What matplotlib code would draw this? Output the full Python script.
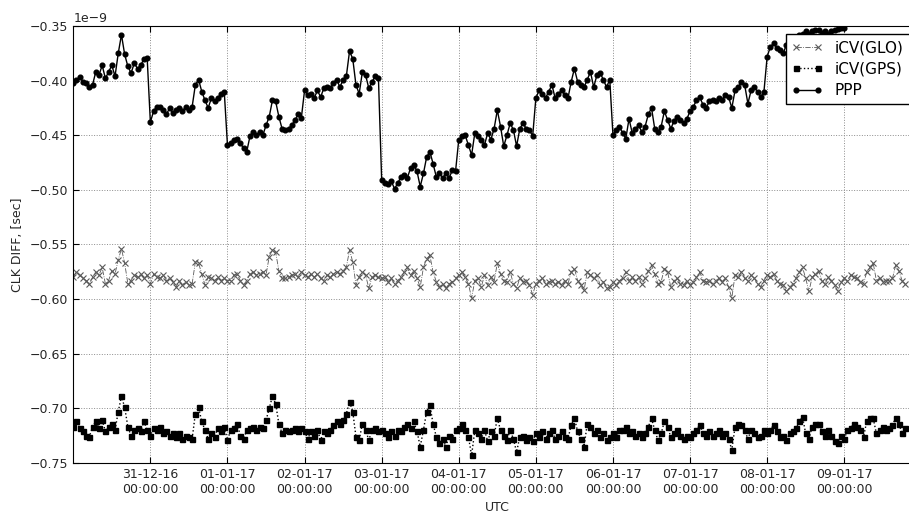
import matplotlib
matplotlib.use('Agg')
import matplotlib.pyplot as plt
import matplotlib.dates as mdates
import numpy as np
import pandas as pd

# hourly samples starting 30-12-16 00:00 UTC, clock difference in units of 1e-9 s
start = '2016-12-30 00:00'

ppp = [-0.402, -0.399, -0.397, -0.401, -0.402, -0.406, -0.404, -0.392, -0.395, -0.386,
       -0.398, -0.392, -0.386, -0.396, -0.375, -0.358, -0.376, -0.387, -0.393, -0.384,
       -0.389, -0.386, -0.380, -0.379, -0.438, -0.428, -0.424, -0.424, -0.427, -0.431,
       -0.425, -0.430, -0.427, -0.425, -0.428, -0.424, -0.427, -0.424, -0.404, -0.399,
       -0.410, -0.418, -0.425, -0.416, -0.419, -0.416, -0.412, -0.410, -0.459, -0.457,
       -0.454, -0.453, -0.457, -0.462, -0.465, -0.451, -0.447, -0.450, -0.447, -0.450,
       -0.441, -0.433, -0.418, -0.419, -0.433, -0.444, -0.445, -0.444, -0.441, -0.436,
       -0.431, -0.434, -0.409, -0.413, -0.412, -0.416, -0.409, -0.415, -0.407, -0.406,
       -0.407, -0.402, -0.399, -0.406, -0.399, -0.396, -0.373, -0.380, -0.404, -0.412,
       -0.392, -0.395, -0.407, -0.401, -0.396, -0.398, -0.491, -0.494, -0.495, -0.492,
       -0.499, -0.494, -0.488, -0.486, -0.489, -0.480, -0.477, -0.483, -0.497, -0.485,
       -0.470, -0.465, -0.476, -0.488, -0.485, -0.489, -0.485, -0.489, -0.482, -0.483,
       -0.454, -0.451, -0.450, -0.459, -0.468, -0.448, -0.451, -0.454, -0.459, -0.448,
       -0.454, -0.444, -0.427, -0.442, -0.460, -0.450, -0.439, -0.445, -0.460, -0.444,
       -0.439, -0.444, -0.445, -0.451, -0.416, -0.409, -0.412, -0.416, -0.410, -0.404,
       -0.416, -0.412, -0.409, -0.413, -0.416, -0.401, -0.389, -0.401, -0.404, -0.406,
       -0.399, -0.392, -0.406, -0.395, -0.393, -0.399, -0.406, -0.399, -0.450, -0.445,
       -0.442, -0.448, -0.453, -0.435, -0.448, -0.444, -0.441, -0.447, -0.442, -0.431,
       -0.425, -0.444, -0.447, -0.442, -0.428, -0.436, -0.444, -0.437, -0.433, -0.436,
       -0.439, -0.435, -0.428, -0.424, -0.418, -0.415, -0.422, -0.425, -0.419, -0.418,
       -0.419, -0.416, -0.418, -0.413, -0.415, -0.425, -0.409, -0.406, -0.401, -0.404,
       -0.421, -0.409, -0.406, -0.410, -0.415, -0.410, -0.378, -0.369, -0.366, -0.370,
       -0.372, -0.375, -0.367, -0.363, -0.361, -0.360, -0.358, -0.357, -0.355, -0.357,
       -0.355, -0.354, -0.354, -0.356, -0.355, -0.357, -0.355, -0.354, -0.353, -0.352,
       -0.352, -0.346, -0.345, -0.344, -0.345, -0.343, -0.344, -0.342, -0.343, -0.341,
       -0.342, -0.340, -0.341, -0.339, -0.340, -0.338, -0.339, -0.337, -0.338, -0.337]

icv_glo = [-0.580, -0.575, -0.578, -0.581, -0.583, -0.586, -0.580, -0.575, -0.578, -0.571,
           -0.586, -0.583, -0.574, -0.577, -0.564, -0.554, -0.567, -0.586, -0.583, -0.578,
           -0.580, -0.577, -0.581, -0.578, -0.586, -0.577, -0.580, -0.581, -0.578, -0.583,
           -0.581, -0.584, -0.589, -0.583, -0.587, -0.584, -0.587, -0.586, -0.566, -0.567,
           -0.577, -0.587, -0.580, -0.581, -0.583, -0.580, -0.583, -0.581, -0.583, -0.583,
           -0.578, -0.577, -0.583, -0.587, -0.583, -0.577, -0.575, -0.578, -0.577, -0.575,
           -0.578, -0.561, -0.555, -0.557, -0.574, -0.581, -0.581, -0.580, -0.578, -0.577,
           -0.580, -0.575, -0.578, -0.580, -0.577, -0.580, -0.577, -0.581, -0.583, -0.578,
           -0.580, -0.577, -0.575, -0.577, -0.574, -0.571, -0.555, -0.566, -0.587, -0.580,
           -0.575, -0.578, -0.590, -0.580, -0.578, -0.580, -0.581, -0.580, -0.584, -0.581,
           -0.586, -0.583, -0.580, -0.575, -0.571, -0.578, -0.574, -0.581, -0.589, -0.571,
           -0.563, -0.560, -0.575, -0.584, -0.589, -0.586, -0.590, -0.586, -0.584, -0.581,
           -0.578, -0.575, -0.580, -0.586, -0.599, -0.583, -0.581, -0.589, -0.578, -0.587,
           -0.580, -0.584, -0.567, -0.577, -0.583, -0.584, -0.575, -0.586, -0.590, -0.581,
           -0.584, -0.583, -0.587, -0.596, -0.586, -0.583, -0.581, -0.586, -0.584, -0.583,
           -0.586, -0.584, -0.587, -0.583, -0.586, -0.575, -0.572, -0.583, -0.587, -0.592,
           -0.575, -0.578, -0.581, -0.578, -0.587, -0.584, -0.590, -0.589, -0.584, -0.587,
           -0.583, -0.581, -0.575, -0.583, -0.580, -0.583, -0.580, -0.586, -0.581, -0.574,
           -0.569, -0.577, -0.586, -0.584, -0.572, -0.575, -0.589, -0.583, -0.581, -0.586,
           -0.587, -0.583, -0.587, -0.584, -0.580, -0.575, -0.583, -0.584, -0.583, -0.586,
           -0.583, -0.581, -0.584, -0.581, -0.589, -0.599, -0.578, -0.580, -0.575, -0.581,
           -0.583, -0.578, -0.581, -0.586, -0.589, -0.583, -0.578, -0.580, -0.577, -0.583,
           -0.586, -0.587, -0.593, -0.589, -0.586, -0.581, -0.575, -0.571, -0.581, -0.593,
           -0.580, -0.577, -0.574, -0.583, -0.586, -0.580, -0.583, -0.587, -0.593, -0.584,
           -0.581, -0.583, -0.578, -0.580, -0.581, -0.584, -0.586, -0.575, -0.571, -0.567,
           -0.583, -0.581, -0.584, -0.583, -0.583, -0.581, -0.569, -0.574, -0.583, -0.586]

icv_gps = [-0.717, -0.712, -0.718, -0.721, -0.725, -0.726, -0.717, -0.712, -0.718, -0.711,
           -0.721, -0.717, -0.714, -0.720, -0.703, -0.689, -0.699, -0.717, -0.725, -0.720,
           -0.718, -0.721, -0.712, -0.720, -0.725, -0.718, -0.720, -0.717, -0.723, -0.721,
           -0.725, -0.723, -0.726, -0.723, -0.728, -0.725, -0.726, -0.728, -0.705, -0.699,
           -0.712, -0.720, -0.728, -0.723, -0.726, -0.718, -0.721, -0.717, -0.729, -0.720,
           -0.718, -0.714, -0.725, -0.728, -0.720, -0.718, -0.717, -0.720, -0.717, -0.718,
           -0.711, -0.700, -0.689, -0.696, -0.714, -0.723, -0.720, -0.721, -0.720, -0.718,
           -0.721, -0.718, -0.721, -0.728, -0.721, -0.725, -0.720, -0.729, -0.721, -0.723,
           -0.720, -0.715, -0.712, -0.714, -0.711, -0.705, -0.694, -0.703, -0.726, -0.729,
           -0.714, -0.720, -0.729, -0.720, -0.718, -0.721, -0.720, -0.723, -0.726, -0.721,
           -0.725, -0.720, -0.721, -0.717, -0.714, -0.718, -0.712, -0.721, -0.735, -0.720,
           -0.703, -0.697, -0.714, -0.726, -0.732, -0.728, -0.735, -0.725, -0.728, -0.720,
           -0.718, -0.714, -0.720, -0.726, -0.743, -0.720, -0.723, -0.728, -0.720, -0.730,
           -0.721, -0.725, -0.709, -0.720, -0.725, -0.729, -0.720, -0.728, -0.740, -0.726,
           -0.725, -0.729, -0.726, -0.730, -0.723, -0.726, -0.721, -0.728, -0.723, -0.720,
           -0.728, -0.725, -0.721, -0.726, -0.728, -0.715, -0.709, -0.721, -0.728, -0.735,
           -0.714, -0.717, -0.723, -0.720, -0.726, -0.723, -0.729, -0.726, -0.723, -0.726,
           -0.720, -0.720, -0.717, -0.723, -0.721, -0.725, -0.723, -0.726, -0.723, -0.717,
           -0.709, -0.720, -0.729, -0.723, -0.712, -0.717, -0.726, -0.723, -0.720, -0.725,
           -0.728, -0.725, -0.726, -0.723, -0.720, -0.715, -0.723, -0.725, -0.721, -0.725,
           -0.723, -0.720, -0.725, -0.723, -0.728, -0.738, -0.717, -0.714, -0.715, -0.720,
           -0.728, -0.720, -0.723, -0.726, -0.725, -0.720, -0.723, -0.720, -0.715, -0.721,
           -0.726, -0.725, -0.729, -0.723, -0.721, -0.718, -0.712, -0.708, -0.723, -0.728,
           -0.717, -0.714, -0.714, -0.721, -0.725, -0.720, -0.725, -0.730, -0.732, -0.725,
           -0.728, -0.720, -0.718, -0.714, -0.717, -0.720, -0.726, -0.712, -0.709, -0.709,
           -0.723, -0.720, -0.717, -0.720, -0.718, -0.715, -0.709, -0.714, -0.723, -0.718]

# day ticks shown on the x axis
tick_days = pd.date_range('2016-12-31', '2017-01-09', freq='D')

t = pd.date_range(start, periods=len(ppp), freq='h')

fig = plt.figure(figsize=(9.09, 5.15), dpi=100)
# the right side of the axes runs past the figure edge, as in the original
ax = fig.add_axes([0.0806, 0.101, 0.933, 0.8485])

ax.plot(t, np.array(icv_glo) * 1e-9, color='0.35', ls='-.', lw=0.6,
        marker='x', ms=3.8, mew=0.8, label='iCV(GLO)')
ax.plot(t, np.array(icv_gps) * 1e-9, color='k', ls=':', lw=1,
        marker='s', ms=3.6, label='iCV(GPS)')
ax.plot(t, np.array(ppp) * 1e-9, color='k', ls='-', lw=1,
        marker='o', ms=3.4, label='PPP')

ax.set_xlim(pd.Timestamp('2016-12-30'), pd.Timestamp('2017-01-10'))
ax.set_ylim(-0.75e-9, -0.35e-9)
ax.set_yticks(np.arange(-0.75, -0.349, 0.05) * 1e-9)
ax.ticklabel_format(axis='y', style='sci', scilimits=(-9, -9))
ax.set_xticks(tick_days)
ax.xaxis.set_major_formatter(mdates.DateFormatter('%d-%m-%y\n%H:%M:%S'))

ax.tick_params(direction='in', labelsize=9, length=4, top=True, right=True,
               labelcolor='0.15')
ax.yaxis.get_offset_text().set_fontsize(9)
ax.grid(True, color='0.55', linestyle=':', linewidth=0.7)

ax.set_xlabel('UTC', fontsize=9, color='0.15')
ax.set_ylabel('CLK DIFF, [sec]', fontsize=9, color='0.15')

leg = ax.legend(loc='upper left', bbox_to_anchor=(0.840, 0.9817), borderaxespad=0,
                fontsize=11, numpoints=2, handlelength=2, labelspacing=0.42,
                fancybox=False, framealpha=1)
leg.get_frame().set_edgecolor('k')

fig.savefig('out.png', dpi=100)
